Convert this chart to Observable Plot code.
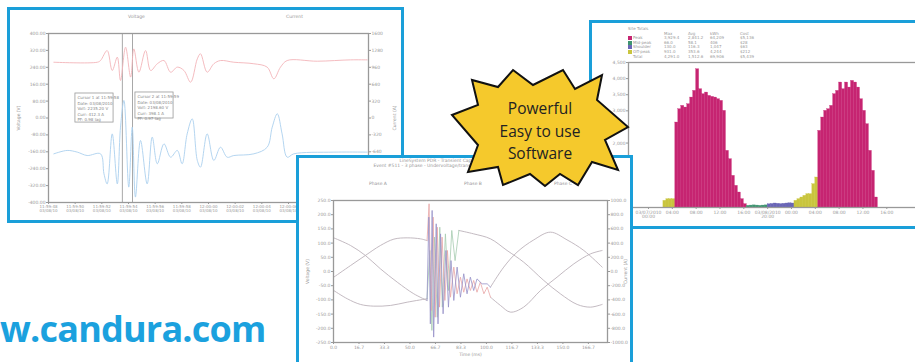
<!DOCTYPE html>
<html><head><meta charset="utf-8">
<script src="https://cdn.jsdelivr.net/npm/d3@7"></script>
<script src="https://cdn.jsdelivr.net/npm/@observablehq/plot@0.6"></script>
<style>
html,body{margin:0;padding:0;background:#fff;width:915px;height:362px;overflow:hidden;position:relative;}
.panel{position:absolute;border:3px solid #1a9fd9;background:#fff;overflow:hidden;}
.panel svg.plot{position:absolute;left:0;top:0;}
.small{position:absolute;font:4.5px "DejaVu Sans";color:#999;white-space:nowrap;line-height:1.1;}
#overlay{position:absolute;left:0;top:0;z-index:10;}
</style></head><body>
<div id="p1" class="panel" style="left:7px;top:7px;width:391px;height:210px;z-index:1">
  <div class="small" style="left:118px;top:5px">Voltage</div>
  <div class="small" style="left:276px;top:5px">Current</div>
</div>
<div id="p3" class="panel" style="left:589px;top:20px;width:339px;height:203px;z-index:2"></div>
<div id="p2" class="panel" style="left:296px;top:155px;width:331px;height:214px;z-index:3">
  <div class="small" style="left:141px;top:1px;transform:translateX(-50%);text-align:center">LineSystem PDR - Transient Capture<br>Event #511 - 3 phase - Undervoltage/transient 03/08/2010</div>
  <div class="small" style="left:70px;top:24px">Phase A</div>
  <div class="small" style="left:165px;top:24px">Phase B</div>
  <div class="small" style="left:255px;top:24px">Phase C</div>
</div>
<svg id="overlay" width="915" height="362"></svg>
<script>
// ---------- Panel 1: voltage / current trend ----------
const p1XTickLabels = ["11:59:48\n03/08/10","11:59:50\n03/08/10","11:59:52\n03/08/10","11:59:54\n03/08/10","11:59:56\n03/08/10","11:59:58\n03/08/10","12:00:00\n03/08/10","12:00:02\n03/08/10","12:00:04\n03/08/10","12:00:06\n03/08/10","12:00:08\n03/08/10","12:00:10\n03/08/10","12:00:12\n03/08/10"];
const p1LeftLabels = ["-400.00","-320.00","-240.00","-160.00","-80.00","0.00","80.00","160.00","240.00","320.00","400.00"];
const p1RightLabels = ["-1600","-1280","-960","-640","-320","0","320","640","960","1280","1600"];
const redX = [0.2,1.83,1.95,2.2,2.39,2.58,2.7,2.89,3.08,3.2,3.39,3.64,3.83,4.08,4.33,4.58,4.83,5.08,5.33,5.58,5.7,5.95,6.2,6.45,6.95,7.7,8.2,8.45,8.7,8.95,10.08,11.33,11.95];
const redY = [8.30,8.30,8.40,8.99,7.81,8.60,7.22,9.19,7.42,9.09,7.71,8.99,7.81,8.21,8.40,7.71,8.01,7.81,7.12,8.50,8.80,7.71,8.21,8.40,8.30,8.21,8.01,7.32,8.01,8.40,8.36,8.44,8.44];
const blueX = [0.2,0.7,1.08,1.45,1.95,2.08,2.2,2.39,2.58,2.7,2.83,3.01,3.14,3.26,3.45,3.7,3.89,4.08,4.33,4.58,4.83,5.01,5.2,5.39,5.58,5.7,5.95,6.2,6.45,6.7,6.95,7.7,8.2,8.39,8.58,8.76,8.95,9.2,10.7,11.95];
const blueY = [2.88,3.08,2.98,2.78,2.88,1.70,1.10,4.06,1.10,4.46,6.04,0.91,4.46,0.32,3.67,1.10,3.87,2.29,3.47,2.68,3.08,2.29,4.06,4.95,2.49,2.09,4.06,2.49,3.27,2.68,2.78,2.88,3.27,4.46,5.25,4.06,2.68,2.88,2.98,2.98];
const cursorX = [2.77, 3.15];
const noteX1 = [1.01, 3.26], noteX2 = [2.44, 4.69], noteY1 = [6.45, 6.51], noteY2 = [4.73, 4.97];
const noteText = ["Cursor 1 at 11:59:58\nDate: 03/08/2010\nVolt: 2235.20 V\nCurr: 412.3 A\nPF: 0.98 lag",
                  "Cursor 2 at 11:59:59\nDate: 03/08/2010\nVolt: 2198.60 V\nCurr: 398.1 A\nPF: 0.97 lag"];

const red = redX.map((x,i)=>({x, y: redY[i]}));
const blue = blueX.map((x,i)=>({x, y: blueY[i]}));
const notes = noteText.map((t,i)=>({x1: noteX1[i], x2: noteX2[i], y1: noteY1[i], y2: noteY2[i], t}));
const idx11 = d3.range(11), idx13 = d3.range(13);
// right-hand ticks below index 3 sit behind the overlapping lower panel
const rightVisible = d3.range(3, 11);

const plotStyle = {fontSize: "4.5px", fontFamily: "DejaVu Sans", color: "#999", background: "transparent"};

const p1 = Plot.plot({
  width: 391, height: 210,
  marginLeft: 38, marginRight: 33, marginTop: 23, marginBottom: 18,
  style: plotStyle,
  x: {domain: [0, 12]},
  y: {domain: [0, 10]},
  marks: [
    Plot.axisX({ticks: idx13, tickFormat: i => p1XTickLabels[i], tickSize: 2, tickPadding: 1, label: null, fontSize: 4}),
    Plot.axisY({anchor: "left", ticks: idx11, tickFormat: i => p1LeftLabels[i], tickSize: 2, tickPadding: 1,
      label: "Voltage (V)", labelAnchor: "center", labelArrow: "none", labelOffset: 32}),
    Plot.axisY({anchor: "right", ticks: rightVisible, tickFormat: i => p1RightLabels[i], tickSize: 2, tickPadding: 1,
      label: "Current (A)", labelAnchor: "center", labelArrow: "none", labelOffset: 27}),
    Plot.ruleX(cursorX, {stroke: "#a8a8a8", strokeWidth: 1}),
    Plot.line(red, {x: "x", y: "y", stroke: "#f3b4b9", strokeWidth: 0.9, curve: "catmull-rom"}),
    Plot.line(blue, {x: "x", y: "y", stroke: "#acd0ee", strokeWidth: 0.9, curve: "catmull-rom"}),
    Plot.rect(notes, {x1: "x1", x2: "x2", y1: "y1", y2: "y2", fill: "white", stroke: "#999", strokeWidth: 0.8}),
    Plot.text(notes, {x: "x1", y: "y1", text: "t", textAnchor: "start", lineAnchor: "top", dx: 2, dy: 2, fontSize: 4, lineHeight: 1.35, fill: "#888"}),
    Plot.frame({stroke: "#999", strokeWidth: 1.3})
  ]
});
p1.classList.add("plot");
document.getElementById("p1").appendChild(p1);

// ---------- Panel 2: transient waveform capture ----------
const p2XLabels = ["0.0","16.7","33.3","50.0","66.7","83.3","100.0","116.7","133.3","150.0","166.7"];
const p2LeftLabels = ["-250.0","-200.0","-150.0","-100.0","-50.0","0.0","50.0","100.0","150.0","200.0","250.0"];
const p2RightLabels = ["-1000.0","-800.0","-600.0","-400.0","-200.0","0.0","200.0","400.0","600.0","800.0","1000.0"];
const aPreT = [0.1,6.7,12.5,18.4,25.0,31.5,36.7];
const aPreV = [2.37,1.83,1.13,0.19,-0.75,-1.57,-2.04];
const bPreT = [0.1,6.7,12.5,18.4,23.7,28.9,34.1,36.7];
const bPreV = [-0.40,0.42,1.13,1.83,2.28,2.37,2.30,2.18];
const cPreT = [0.1,5.4,10.6,15.8,22.4,28.9,36.7];
const cPreV = [-1.34,-1.92,-2.32,-2.44,-2.39,-2.16,-1.92];
const aPostT = [49.2,55.0,61.6,68.1,74.6,82.5,89.0,95.6,100.8,105.4];
const aPostV = [2.89,2.65,2.30,1.48,0.66,-0.63,-1.57,-2.32,-2.51,-2.32];
const bPostT = [61.6,66.8,72.0,78.6,85.1,91.6,98.2,105.4];
const bPostV = [-1.10,0.31,1.36,2.23,2.77,2.23,1.48,0.31];
const cPostT = [61.6,65.5,69.4,74.6,81.2,87.7,94.3,100.8,105.4];
const cPostV = [-1.81,-2.39,-2.86,-2.51,-1.34,-0.40,0.54,1.24,1.48];
const tr1T = [36.7,37.4,38.0,38.7,39.3,40.3,41.0,42.0,43.0,44.1,45.1,46.1,47.2,48.5,49.8,51.1,52.4,53.7,55.0,56.3,58.3,60.3,61.6];
const tr1V = [-2.04,3.83,-3.69,4.30,-4.62,3.36,-3.69,2.65,-2.98,1.48,-2.51,0.77,-2.04,0.31,-1.81,-0.16,-1.57,-0.40,-1.34,-0.52,-0.87,-0.87,-1.10];
const tr2T = [36.7,37.5,38.3,39.1,39.9,40.7,41.6,42.6,43.7,44.7,45.9,47.2,48.5,49.8,51.1,52.4,53.7,55.0,56.3,57.6,59.0,60.3,61.6];
const tr2V = [2.18,4.77,-2.75,3.83,-3.22,3.12,-2.51,2.42,-2.04,1.48,-1.81,0.31,-1.57,-0.40,-1.46,-0.52,-1.34,-0.63,-1.46,-0.75,-1.57,-1.10,-1.81];
const tr3T = [36.7,37.8,38.6,39.6,40.7,41.7,42.7,43.9,45.1,46.4,47.7,49.2];
const tr3V = [-1.92,1.48,-4.15,2.42,-3.22,3.12,-2.51,2.65,-1.34,2.89,0.77,2.89];

const zipTV = (t, v, s) => t.map((x,i)=>({t: x, v: v[i], s}));
const slow = [...zipTV(aPreT,aPreV,"a1"),...zipTV(bPreT,bPreV,"b1"),...zipTV(cPreT,cPreV,"c1"),
              ...zipTV(aPostT,aPostV,"a2"),...zipTV(bPostT,bPostV,"b2"),...zipTV(cPostT,cPostV,"c2")];

const p2 = Plot.plot({
  width: 331, height: 214,
  marginLeft: 34, marginRight: 23, marginTop: 42, marginBottom: 30,
  style: plotStyle,
  x: {domain: [0, 107.5]},
  y: {domain: [-5, 5]},
  marks: [
    Plot.axisX({ticks: d3.range(0, 101, 10), tickFormat: t => p2XLabels[t/10], tickSize: 2, tickPadding: 1,
      label: "Time (ms)", labelAnchor: "center", labelArrow: "none", labelOffset: 13}),
    Plot.axisY({anchor: "left", ticks: d3.range(-5, 6), tickFormat: v => p2LeftLabels[v+5], tickSize: 2, tickPadding: 1,
      label: "Voltage (V)", labelAnchor: "center", labelArrow: "none", labelOffset: 28}),
    Plot.axisY({anchor: "right", ticks: d3.range(-5, 6), tickFormat: v => p2RightLabels[v+5], tickSize: 2, tickPadding: 1,
      label: "Current (A)", labelAnchor: "center", labelArrow: "none", labelOffset: 19}),
    Plot.line(slow, {x: "t", y: "v", z: "s", stroke: "#bcb2ba", strokeWidth: 0.9, curve: "catmull-rom"}),
    Plot.line(zipTV(tr3T,tr3V,"g"), {x: "t", y: "v", stroke: "#a6ccb0", strokeWidth: 0.8}),
    Plot.line(zipTV(tr2T,tr2V,"r"), {x: "t", y: "v", stroke: "#e8a6a6", strokeWidth: 0.8}),
    Plot.line(zipTV(tr1T,tr1V,"b"), {x: "t", y: "v", stroke: "#9590c8", strokeWidth: 0.8}),
    Plot.frame({stroke: "#999", strokeWidth: 1.3})
  ]
});
p2.classList.add("plot");
document.getElementById("p2").appendChild(p2);

// ---------- Panel 3: demand histogram ----------
const p3XLabels = ["03/07/2010\n00:00","04:00","08:00","12:00","16:00","03/08/2010\n20:00","00:00","04:00","08:00","12:00","16:00"];
const p3YLabels = ["0","500","1,000","1,500","2,000","2,500","3,000","3,500","4,000","4,500"];
const catNames = ["Off-peak","Mid-peak","Shoulder","Peak"];
const catColors = ["#c9c53e","#3d9470","#6a66b6","#c62471"];
const yellowAStart = 2.5, yellowA = [207,259,259,259];
const magentaAStart = 4.5, magentaA = [2637,3050,3154,3102,3205,3412,3619,4291,3671,3516,3567,3464,3433,3412,3360,3309,2999,1758,1499,982,672,465,259,103];
const greenAStart = 16.5, greenA = [52,60,66,60,52,60,66];
const blueAStart = 20, blueA = [100,110,124,115,105,115,124,130,124];
const yellowBStart = 24.5, yellowB = [207,259,310,362,414,414,724,931];
const magentaBStart = 28.5, magentaB = [2378,2792,2999,3050,3154,3516,3619,3878,3671,3878,3722,3929,3878,3722,3360,2999,2585,1758,1137,310];

const bins = (start, vals, c) => vals.map((v,i)=>({h: start + 0.5*i, v, c}));
const bars = [...bins(yellowAStart,yellowA,"Off-peak"),...bins(magentaAStart,magentaA,"Peak"),
  ...bins(greenAStart,greenA,"Mid-peak"),...bins(blueAStart,blueA,"Shoulder"),
  ...bins(yellowBStart,yellowB,"Off-peak"),...bins(magentaBStart,magentaB,"Peak")];

const p3 = Plot.plot({
  width: 339, height: 203,
  marginLeft: 36, marginRight: 6, marginTop: 39, marginBottom: 19,
  style: plotStyle,
  x: {domain: [-3.36, 46.5]},
  y: {domain: [0, 4500]},
  color: {domain: catNames, range: catColors},
  marks: [
    Plot.axisX({ticks: d3.range(0, 41, 4), tickFormat: h => p3XLabels[h/4], tickSize: 2, tickPadding: 1, label: null}),
    Plot.axisY({ticks: d3.range(0, 4501, 500), tickFormat: v => p3YLabels[v/500], tickSize: 2, tickPadding: 1, label: null}),
    Plot.rect(bars, {x1: "h", x2: d => d.h + 0.5, y1: 0, y2: "v", fill: "c", stroke: "c", strokeWidth: 0.3}),
    Plot.ruleY([0], {stroke: "#bbb", strokeWidth: 0.8}),
    Plot.frame({stroke: "#999", strokeWidth: 1.3})
  ]
});
p3.classList.add("plot");
const p3div = document.getElementById("p3");
p3div.appendChild(p3);

// legend table (top-left of panel 3)
const legRows = [["Site Totals","","","",""],["","Max","Avg","kWh","Cost"],
  ["Peak","3,929.4","2,841.2","64,209","$5,136"],["Mid-peak","66.0","58.1","406","$28"],
  ["Shoulder","130.0","116.3","1,047","$63"],["Off-peak","931.0","353.6","4,244","$212"],["Total","4,291.0","1,512.6","69,906","$5,439"]];
const legCols = [36, 72, 96, 118, 148];
legRows.forEach((r, ri) => {
  r.forEach((t, ci) => {
    if (!t) return;
    const d = document.createElement("div");
    d.className = "small";
    d.style.fontSize = "4px";
    d.style.left = (ci === 0 && ri > 1 ? legCols[0] + 5 : legCols[ci]) + "px";
    d.style.top = (4 + ri * 4.6) + "px";
    d.textContent = t;
    p3div.appendChild(d);
  });
  const ci = catNames.indexOf(r[0]);
  if (ci >= 0) {
    const s = document.createElement("div");
    s.style.cssText = `position:absolute;left:${legCols[0]}px;top:${4 + ri*4.6}px;width:3.5px;height:4px;background:${catColors[ci]}`;
    p3div.appendChild(s);
  }
});

// ---------- overlay: starburst badge and web address ----------
const starPoints = [[513,70],[533,85],[563,70],[575,89],[602,75],[597,100],[628,127],[605,140],[618,170],[592,162],[578,185],[560,174],[545,186],[530,174],[503,185],[498,167],[468,172],[478,145],[452,115],[478,105],[472,80],[498,87]];
const badgeLines = ["Powerful", "Easy to use", "Software"];
const ov = d3.select("#overlay");
ov.append("polygon").attr("points", starPoints.map(p => p.join(",")).join(" "))
  .attr("fill", "#f5c92c").attr("stroke", "#111").attr("stroke-width", 2).attr("stroke-linejoin", "miter");
ov.selectAll("text.badge").data(badgeLines).join("text").attr("class", "badge")
  .attr("x", 540).attr("y", (d,i) => 114 + i*22.5).attr("text-anchor", "middle")
  .attr("font-family", "Open Sans").attr("font-size", 15.5).attr("fill", "#222").text(d => d);
ov.append("text").attr("x", 0).attr("y", 342).attr("font-family", "Open Sans").attr("font-weight", 700)
  .attr("font-size", 36).attr("fill", "#1ba1de").attr("letter-spacing", -0.8).text("w.candura.com");
</script>
</body></html>
